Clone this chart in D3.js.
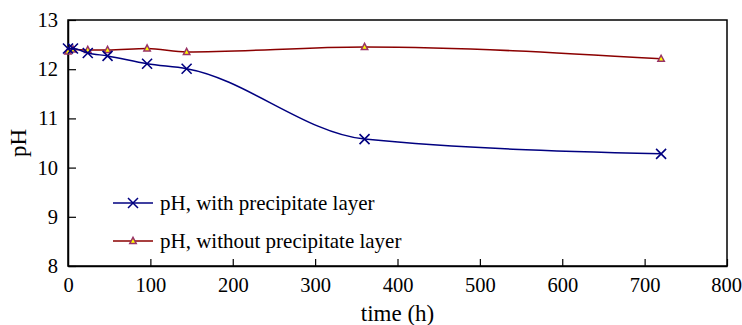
<!DOCTYPE html>
<html>
<head>
<meta charset="utf-8">
<script src="https://cdn.jsdelivr.net/npm/d3@7"></script>
<style>
  body { margin: 0; background: #fff; }
  text { font-family: "Liberation Serif", "Times New Roman", serif; fill: #000; }
</style>
</head>
<body>
<div id="grafica-ph"></div>
<script>
// datos
const tiempos = [0, 6, 24, 48, 96, 144, 360, 720];
const phConCapa = [12.42, 12.42, 12.33, 12.27, 12.11, 12.01, 10.58, 10.28];
const phSinCapa = [12.36, 12.40, 12.39, 12.39, 12.42, 12.35, 12.45, 12.21];
const xTicks = [0, 100, 200, 300, 400, 500, 600, 700, 800];
const yTicks = [8, 9, 10, 11, 12, 13];
const nombresSeries = ['pH, with precipitate layer', 'pH, without precipitate layer'];

const margin = { top: 20, right: 15, bottom: 59, left: 68 }
const width = 742 - margin.left - margin.right
const height = 325 - margin.top - margin.bottom
const blueColor = '#000080';
const redColor = '#8b0000';

const svg = d3.select('#grafica-ph')
    .append('svg')
    .attr('width', 742)
    .attr('height', 325)
    .append('g')
    .attr('transform', `translate(${margin.left}, ${margin.top})`)

const x = d3.scaleLinear().domain([0, 800]).range([0, width])
const y = d3.scaleLinear().domain([8, 13]).range([height, 0])

// marco
svg.append('rect')
    .attr('width', width).attr('height', height)
    .attr('fill', 'none').attr('stroke', '#000').attr('stroke-width', 1.5)

// ejes con ticks hacia dentro
const xAxis = svg.append('g')
    .attr('transform', `translate(0, ${height})`)
    .call(d3.axisBottom(x).tickValues(xTicks).tickFormat(d3.format('d'))
        .tickSizeInner(-7).tickSizeOuter(0).tickPadding(11))
const yAxis = svg.append('g')
    .call(d3.axisLeft(y).tickValues(yTicks).tickFormat(d3.format('d'))
        .tickSizeInner(-8).tickSizeOuter(0).tickPadding(10))

svg.selectAll('.domain').attr('stroke-width', 1.5)
svg.selectAll('.tick line').attr('stroke-width', 1.2)
svg.selectAll('g').attr('font-family', null).attr('font-size', null)
svg.selectAll('.tick text')
    .style('font-family', '"Liberation Serif", serif')
    .style('font-size', '20.5px')
    .attr('fill', '#000')
xAxis.selectAll('.tick text').attr('dy', '0.71em')
xAxis.selectAll('.tick').filter(d => d === 0).select('line').remove()
// la etiqueta 800 queda pegada al borde, se corre un poco
xAxis.selectAll('.tick').filter(d => d === 800).select('text').attr('dx', -1)

// titulos de ejes
svg.append('text')
    .attr('x', width / 2)
    .attr('y', height + 55)
    .style('text-anchor', 'middle')
    .style('font-size', '23px')
    .text('time (h)')
svg.append('text')
    .attr('transform', `translate(${-42}, ${height / 2}) rotate(-90)`)
    .style('text-anchor', 'middle')
    .style('font-size', '23px')
    .text('pH')

const linea = d3.line()
    .x(d => x(d.t))
    .y(d => y(d.v))
    .curve(d3.curveMonotoneX)

const datosAzul = tiempos.map((t, i) => ({ t: t, v: phConCapa[i] }))
const datosRojo = tiempos.map((t, i) => ({ t: t, v: phSinCapa[i] }))

const cruz = 'M-5,-5L5,5M-5,5L5,-5'
const triangulo = 'M0,-3.6L3.2,2.4L-3.2,2.4Z'

// serie roja
svg.append('path')
    .datum(datosRojo)
    .attr('d', linea)
    .attr('fill', 'none').attr('stroke', redColor).attr('stroke-width', 1.5)
svg.selectAll('.tri')
    .data(datosRojo)
    .enter().append('path')
    .attr('class', 'tri')
    .attr('d', triangulo)
    .attr('transform', d => `translate(${x(d.t)}, ${y(d.v)})`)
    .attr('fill', '#ffff00').attr('stroke', '#993366').attr('stroke-width', 1.5)

// serie azul
svg.append('path')
    .datum(datosAzul)
    .attr('d', linea)
    .attr('fill', 'none').attr('stroke', blueColor).attr('stroke-width', 1.5)
svg.selectAll('.cruz')
    .data(datosAzul)
    .enter().append('path')
    .attr('class', 'cruz')
    .attr('d', cruz)
    .attr('transform', d => `translate(${x(d.t)}, ${y(d.v)})`)
    .attr('fill', 'none').attr('stroke', blueColor).attr('stroke-width', 1.6)

// leyenda
const leyenda = svg.append('g').attr('transform', 'translate(45, 183)')
const items = [
    { nombre: nombresSeries[0], color: blueColor, marca: cruz, relleno: 'none', borde: blueColor },
    { nombre: nombresSeries[1], color: redColor, marca: triangulo, relleno: '#ffff00', borde: '#993366' }
]
items.forEach((it, i) => {
    const g = leyenda.append('g').attr('transform', `translate(0, ${i * 38})`)
    g.append('line').attr('x1', 0).attr('x2', 40)
        .attr('stroke', it.color).attr('stroke-width', 1.5)
    g.append('path').attr('d', it.marca)
        .attr('transform', 'translate(20, 0)')
        .attr('fill', it.relleno).attr('stroke', it.borde).attr('stroke-width', 1.5)
    g.append('text').attr('x', 47).attr('dy', '0.33em')
        .style('font-size', '21px')
        .text(it.nombre)
})
</script>
</body>
</html>
